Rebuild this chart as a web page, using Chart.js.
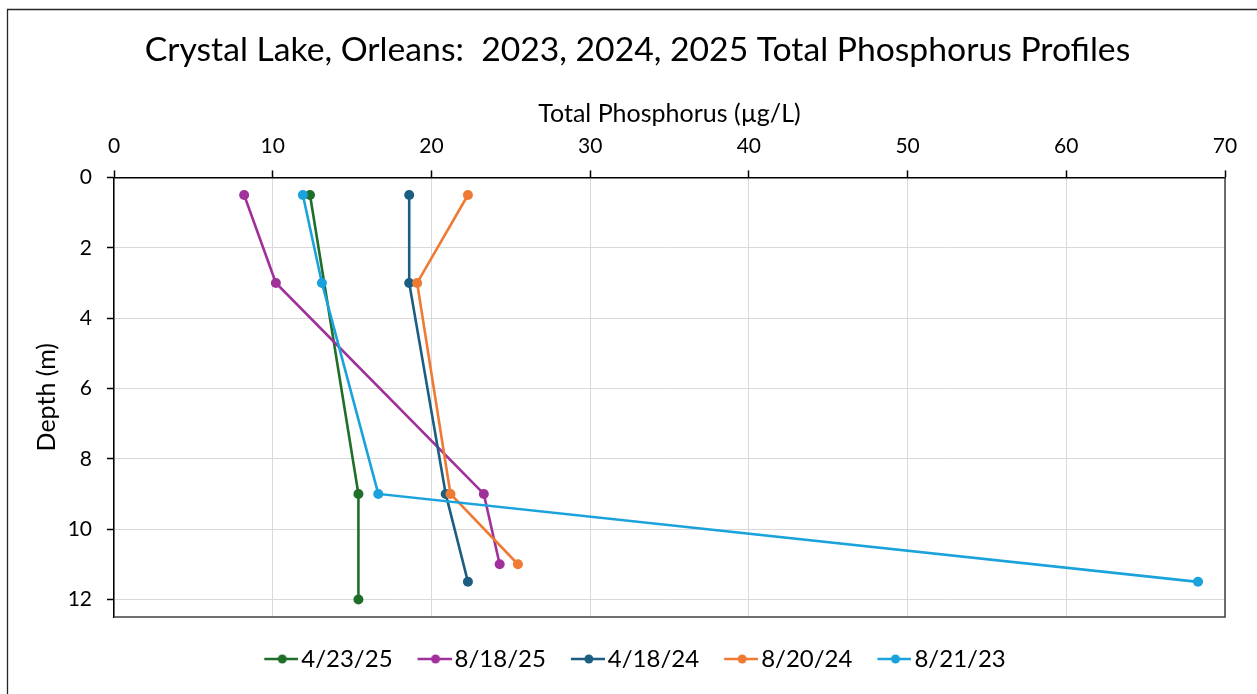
<!DOCTYPE html>
<html>
<head>
<meta charset="utf-8">
<script src="https://cdn.jsdelivr.net/npm/chart.js@4.4.1/dist/chart.umd.min.js"></script>
<style>
  html, body { margin: 0; padding: 0; background: #ffffff; }
  #wrap { width: 1257px; height: 694px; }
</style>
</head>
<body>
<div id="wrap"><canvas id="c" width="1257" height="694"></canvas></div>
<script>
// Sampling dates (legend order)
const seriesNames = ['4/23/25', '8/18/25', '4/18/24', '8/20/24', '8/21/23'];
const seriesColors = ['#1f6e2a', '#a0309a', '#1b5e82', '#ee7a33', '#1aa2dc'];

// Depth (m) and total phosphorus (µg/L) for each profile
const depth_2025_04_23 = [0.5, 9, 12];
const tp_2025_04_23    = [12.35, 15.4, 15.4];

const depth_2025_08_18 = [0.5, 3, 9, 11];
const tp_2025_08_18    = [8.2, 10.2, 23.3, 24.3];

const depth_2024_04_18 = [0.5, 3, 9, 11.5];
const tp_2024_04_18    = [18.6, 18.6, 20.9, 22.3];

const depth_2024_08_20 = [0.5, 3, 9, 11];
const tp_2024_08_20    = [22.3, 19.1, 21.2, 25.45];

const depth_2023_08_21 = [0.5, 3, 9, 11.5];
const tp_2023_08_21    = [11.9, 13.1, 16.65, 68.3];

// Axis ranges and tick spacing
const xTicks = [0, 10, 20, 30, 40, 50, 60, 70];
const yTicks = [0, 2, 4, 6, 8, 10, 12];
const yMax = 12.5;

const profiles = [
  [depth_2025_04_23, tp_2025_04_23],
  [depth_2025_08_18, tp_2025_08_18],
  [depth_2024_04_18, tp_2024_04_18],
  [depth_2024_08_20, tp_2024_08_20],
  [depth_2023_08_21, tp_2023_08_21]
];

const datasets = profiles.map(([d, v], i) => ({
  label: seriesNames[i],
  data: d.map((depth, k) => ({ x: v[k], y: depth })),
  showLine: true,
  borderColor: seriesColors[i],
  backgroundColor: seriesColors[i],
  borderWidth: 2.6,
  pointRadius: 5,
  pointBorderWidth: 0,
  pointHoverRadius: 5,
  order: profiles.length - i   // later profiles drawn on top
}));

// Legend marker: short line with a dot in the middle
function legendMarker(color) {
  const c = document.createElement('canvas');
  c.width = 38; c.height = 12;
  const g = c.getContext('2d');
  g.strokeStyle = color; g.lineWidth = 2.6;
  g.beginPath(); g.moveTo(4, 6); g.lineTo(38, 6); g.stroke();
  g.fillStyle = color;
  g.beginPath(); g.arc(22, 6, 4.5, 0, Math.PI * 2); g.fill();
  return c;
}
const markers = seriesColors.map(legendMarker);

// Outer frame and the right/bottom edges of the plot area
const framePlugin = {
  id: 'frame',
  beforeDraw(chart) {
    const ctx = chart.ctx;
    ctx.save();
    ctx.fillStyle = '#ffffff';
    ctx.fillRect(0, 0, chart.width, chart.height);
    ctx.strokeStyle = '#262626';
    ctx.lineWidth = 1.3;
    ctx.beginPath();
    ctx.moveTo(7.5, chart.height + 2);
    ctx.lineTo(7.5, 9.5);
    ctx.lineTo(chart.width + 2, 9.5);
    ctx.stroke();
    ctx.restore();
  },
  beforeDatasetsDraw(chart) {
    const a = chart.chartArea, ctx = chart.ctx;
    ctx.save();
    ctx.strokeStyle = '#404040';
    ctx.lineWidth = 1.5;
    ctx.beginPath();
    ctx.moveTo(a.right, a.top);
    ctx.lineTo(a.right, a.bottom);
    ctx.lineTo(a.left, a.bottom);
    ctx.stroke();
    ctx.restore();
  }
};

Chart.defaults.font.family = 'Lato';
Chart.defaults.color = '#000000';

new Chart(document.getElementById('c'), {
  type: 'scatter',
  data: { datasets },
  plugins: [framePlugin],
  options: {
    responsive: false,
    animation: false,
    layout: { padding: { left: 50, right: 32, top: 0, bottom: 13 } },
    scales: {
      x: {
        type: 'linear',
        position: 'top',
        min: xTicks[0],
        max: xTicks[xTicks.length - 1],
        afterBuildTicks: s => { s.ticks = xTicks.map(v => ({ value: v })); },
        afterFit: s => { s.height = 107.5; },
        ticks: { font: { size: 21 }, padding: 12, color: '#000' },
        grid: { color: '#d9d9d9', lineWidth: 1, tickColor: '#000', tickLength: 7, tickWidth: 1.5 },
        border: { color: '#000', width: 1.5 },
        title: {
          display: true,
          text: 'Total Phosphorus (µg/L)',
          font: { size: 25, lineHeight: 1.2 },
          padding: { top: 28.5, bottom: 5 },
          color: '#000'
        }
      },
      y: {
        type: 'linear',
        position: 'left',
        reverse: true,
        min: 0,
        max: yMax,
        afterBuildTicks: s => { s.ticks = yTicks.map(v => ({ value: v })); },
        afterFit: s => { s.width = 64; },
        ticks: { font: { size: 21 }, padding: 15, color: '#000' },
        grid: { color: '#d9d9d9', lineWidth: 1, tickColor: '#000', tickLength: 7, tickWidth: 1.5 },
        border: { color: '#000', width: 1.5 },
        title: {
          display: true,
          text: 'Depth (m)',
          font: { size: 25, lineHeight: 1.2 },
          padding: { top: -18, bottom: 0 },
          color: '#000'
        }
      }
    },
    plugins: {
      title: {
        display: true,
        text: 'Crystal Lake, Orleans:  2023, 2024, 2025 Total Phosphorus Profiles',
        font: { size: 33.7, weight: 'normal', lineHeight: 1.2 },
        padding: { top: 29.5, bottom: 0 },
        color: '#000'
      },
      legend: {
        position: 'bottom',
        labels: {
          usePointStyle: true,
          pointStyleWidth: 20,
          font: { size: 24 },
          padding: 30,
          color: '#000',
          generateLabels(chart) {
            const items = Chart.defaults.plugins.legend.labels.generateLabels(chart);
            items.sort((a, b) => a.datasetIndex - b.datasetIndex);
            items.forEach(it => { it.pointStyle = markers[it.datasetIndex]; });
            return items;
          }
        }
      },
      tooltip: { enabled: false }
    }
  }
});
</script>
</body>
</html>
